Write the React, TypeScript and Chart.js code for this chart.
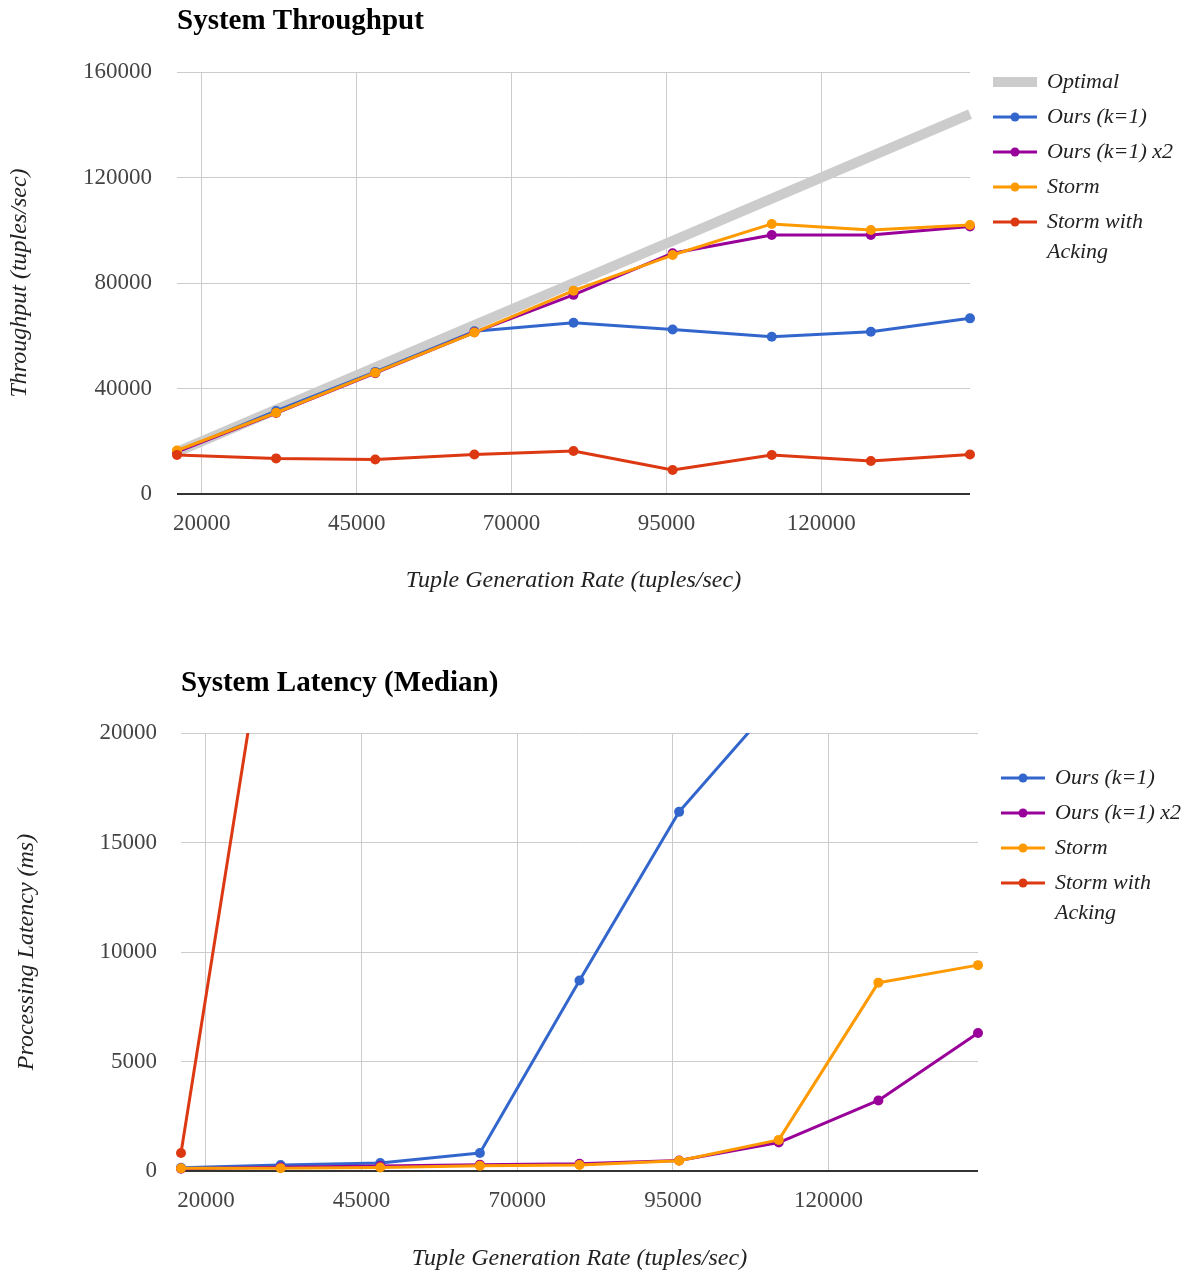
import React, { useEffect, useRef } from 'react';
import { Chart, registerables } from 'chart.js';

Chart.register(...registerables);

// ---------------- data ----------------
const RATES = [16000, 32000, 48000, 64000, 80000, 96000, 112000, 128000, 144000];
const X_TICKS = [20000, 45000, 70000, 95000, 120000];

const TP_Y_TICKS = [0, 40000, 80000, 120000, 160000];
const TP_OPTIMAL = [16000, 32000, 48000, 64000, 80000, 96000, 112000, 128000, 144000];
const TP_OURS = [16000, 31500, 46300, 61700, 64900, 62400, 59600, 61500, 66600];
const TP_OURS_X2 = [16000, 30700, 45800, 61300, 75500, 91300, 98200, 98200, 101400];
const TP_STORM = [16500, 30800, 46000, 61200, 77100, 90600, 102400, 100100, 102000];
const TP_STORM_ACK = [14800, 13500, 13100, 15000, 16300, 9100, 14800, 12500, 15000];

const LAT_Y_TICKS = [0, 5000, 10000, 15000, 20000];
const LAT_OURS: (number | null)[] = [150, 270, 360, 820, 8700, 16400, 21600, null, null];
const LAT_OURS_X2 = [100, 170, 230, 290, 330, 480, 1300, 3220, 6300];
const LAT_STORM = [120, 130, 160, 240, 270, 470, 1420, 8600, 9400];
const LAT_STORM_ACK: (number | null)[] = [820, 29400, null, null, null, null, null, null, null];

const LEGEND_WRAP: Record<string, string[]> = {
  'Storm with Acking': ['Storm with', 'Acking'],
};

// ---------------- style ----------------
const SERIF = '"Liberation Serif", "Times New Roman", serif';
const GRAY = '#cccccc';
const BLUE = '#3366cc';
const PURPLE = '#990099';
const ORANGE = '#ff9900';
const RED = '#dc3912';

type Series = {
  label: string;
  values: (number | null)[];
  color: string;
  width: number;
  points: boolean;
  order: number;
  marker: 'bar' | 'line';
};

type Geometry = {
  canvasH: number;
  plotLeft: number;
  legendW: number;
  titleTop: number;
  titleBottom: number;
  xScaleH: number;
  xTickPad: number;
  xTitlePadBottom: number;
  yTickPad: number;
  yTitlePadTop: number;
  legendTop: number;
};

type Spec = {
  title: string;
  xTitle: string;
  yTitle: string;
  yMax: number;
  yTicks: number[];
  series: Series[];
  geo: Geometry;
};

const TP_SPEC: Spec = {
  title: 'System Throughput',
  xTitle: 'Tuple Generation Rate (tuples/sec)',
  yTitle: 'Throughput (tuples/sec)',
  yMax: 160000,
  yTicks: TP_Y_TICKS,
  series: [
    { label: 'Optimal', values: TP_OPTIMAL, color: GRAY, width: 10, points: false, order: 5, marker: 'bar' },
    { label: 'Ours (k=1)', values: TP_OURS, color: BLUE, width: 3, points: true, order: 4, marker: 'line' },
    { label: 'Ours (k=1) x2', values: TP_OURS_X2, color: PURPLE, width: 3, points: true, order: 3, marker: 'line' },
    { label: 'Storm', values: TP_STORM, color: ORANGE, width: 3, points: true, order: 2, marker: 'line' },
    { label: 'Storm with Acking', values: TP_STORM_ACK, color: RED, width: 3, points: true, order: 1, marker: 'line' },
  ],
  geo: {
    canvasH: 637,
    plotLeft: 177,
    legendW: 218,
    titleTop: 4.6,
    titleBottom: 32.6,
    xScaleH: 143,
    xTickPad: 16,
    xTitlePadBottom: 41.6,
    yTickPad: 25,
    yTitlePadTop: 5,
    legendTop: 58,
  },
};

const LAT_SPEC: Spec = {
  title: 'System Latency (Median)',
  xTitle: 'Tuple Generation Rate (tuples/sec)',
  yTitle: 'Processing Latency (ms)',
  yMax: 20000,
  yTicks: LAT_Y_TICKS,
  series: [
    { label: 'Ours (k=1)', values: LAT_OURS, color: BLUE, width: 3, points: true, order: 4, marker: 'line' },
    { label: 'Ours (k=1) x2', values: LAT_OURS_X2, color: PURPLE, width: 3, points: true, order: 3, marker: 'line' },
    { label: 'Storm', values: LAT_STORM, color: ORANGE, width: 3, points: true, order: 2, marker: 'line' },
    { label: 'Storm with Acking', values: LAT_STORM_ACK, color: RED, width: 3, points: true, order: 1, marker: 'line' },
  ],
  geo: {
    canvasH: 638,
    plotLeft: 181,
    legendW: 210,
    titleTop: 29.6,
    titleBottom: 31.6,
    xScaleH: 104,
    xTickPad: 16,
    xTitlePadBottom: 1.6,
    yTickPad: 24,
    yTitlePadTop: 12.6,
    legendTop: 117,
  },
};

// ---------------- helpers ----------------
function makeMarker(color: string, kind: 'bar' | 'line'): HTMLCanvasElement {
  const c = document.createElement('canvas');
  c.width = 55;
  c.height = 12;
  const ctx = c.getContext('2d')!;
  if (kind === 'bar') {
    ctx.fillStyle = color;
    ctx.fillRect(11, 1, 44, 10);
  } else {
    ctx.strokeStyle = color;
    ctx.lineWidth = 3;
    ctx.beginPath();
    ctx.moveTo(11, 6);
    ctx.lineTo(55, 6);
    ctx.stroke();
    ctx.fillStyle = color;
    ctx.beginPath();
    ctx.arc(33, 6, 4.5, 0, Math.PI * 2);
    ctx.fill();
  }
  return c;
}

const fixLegendWidth = {
  id: 'fixLegendWidth',
  beforeLayout(chart: any, _args: any, opts: any) {
    const lg = chart.legend;
    if (lg && !lg.__fixedFit) {
      const orig = lg.fit.bind(lg);
      lg.fit = () => {
        orig();
        lg.width = opts.width;
      };
      lg.__fixedFit = true;
    }
  },
};

function buildChart(canvas: HTMLCanvasElement, spec: Spec): Chart {
  const g = spec.geo;
  const markers = spec.series.map((s) => makeMarker(s.color, s.marker));
  const config: any = {
    type: 'line',
    data: {
      datasets: spec.series.map((s) => ({
        label: s.label,
        data: RATES.map((x, i) => ({ x, y: s.values[i] })),
        borderColor: s.color,
        backgroundColor: s.color,
        borderWidth: s.width,
        pointRadius: s.points ? 5 : 0,
        pointHoverRadius: s.points ? 5 : 0,
        pointBorderWidth: 0,
        pointBackgroundColor: s.color,
        order: s.order,
        tension: 0,
        fill: false,
        borderCapStyle: 'butt',
        borderJoinStyle: 'round',
        clip: { left: 10, right: 10, top: 0, bottom: 10 },
      })),
    },
    options: {
      animation: false,
      responsive: true,
      maintainAspectRatio: false,
      events: [],
      layout: { padding: 0 },
      scales: {
        x: {
          type: 'linear',
          min: RATES[0],
          max: RATES[RATES.length - 1],
          afterBuildTicks: (s: any) => {
            s.ticks = X_TICKS.map((v) => ({ value: v }));
          },
          afterFit: (s: any) => {
            s.height = g.xScaleH;
          },
          grid: { color: GRAY, lineWidth: 1, drawTicks: false },
          border: { display: false },
          ticks: {
            padding: g.xTickPad,
            color: '#444',
            font: { family: SERIF, size: 23, lineHeight: 1.2 },
            callback: (v: any) => String(v),
            maxRotation: 0,
            autoSkip: false,
          },
          title: {
            display: true,
            text: spec.xTitle,
            color: '#222',
            font: { family: SERIF, size: 24, style: 'italic', lineHeight: 1.2 },
            padding: { top: 0, bottom: g.xTitlePadBottom },
          },
        },
        y: {
          type: 'linear',
          min: 0,
          max: spec.yMax,
          afterBuildTicks: (s: any) => {
            s.ticks = spec.yTicks.map((v) => ({ value: v }));
          },
          afterFit: (s: any) => {
            s.width = g.plotLeft;
          },
          grid: {
            color: (c: any) => (c.tick && c.tick.value === 0 ? '#333333' : GRAY),
            lineWidth: (c: any) => (c.tick && c.tick.value === 0 ? 2 : 1),
            drawTicks: false,
          },
          border: { display: false },
          ticks: {
            padding: g.yTickPad,
            color: '#444',
            font: { family: SERIF, size: 23, lineHeight: 1.2 },
            callback: (v: any) => String(v),
          },
          title: {
            display: true,
            text: spec.yTitle,
            color: '#222',
            font: { family: SERIF, size: 24, style: 'italic', lineHeight: 1.2 },
            padding: { top: g.yTitlePadTop, bottom: 0 },
          },
        },
      },
      plugins: {
        title: {
          display: true,
          text: spec.title,
          align: 'start',
          fullSize: false,
          color: '#000',
          font: { family: SERIF, size: 29, weight: 'bold', lineHeight: 1.2 },
          padding: { top: g.titleTop, bottom: g.titleBottom },
        },
        legend: {
          display: true,
          position: 'right',
          align: 'start',
          fullSize: true,
          title: {
            display: true,
            text: ' ',
            font: { size: 1, lineHeight: 1 },
            padding: { top: g.legendTop - 1, bottom: 0 },
          },
          labels: {
            usePointStyle: true,
            pointStyleWidth: 53,
            padding: 13,
            color: '#222',
            font: { family: SERIF, size: 22, style: 'italic', lineHeight: 1.36 },
            sort: (a: any, b: any) => a.datasetIndex - b.datasetIndex,
            generateLabels: (chart: any) => {
              const items = (Chart.defaults.plugins.legend.labels as any).generateLabels(chart);
              return items.map((it: any) => {
                const label = chart.data.datasets[it.datasetIndex].label as string;
                return {
                  ...it,
                  text: LEGEND_WRAP[label] ?? it.text,
                  pointStyle: markers[it.datasetIndex],
                  fontColor: '#222',
                };
              });
            },
          },
        },
        tooltip: { enabled: false },
        fixLegendWidth: { width: g.legendW },
      },
    },
    plugins: [fixLegendWidth],
  };
  return new Chart(canvas, config);
}

function ChartBox({ spec }: { spec: Spec }) {
  const ref = useRef<HTMLCanvasElement | null>(null);
  useEffect(() => {
    if (!ref.current) return;
    const chart = buildChart(ref.current, spec);
    return () => chart.destroy();
  }, [spec]);
  return (
    <div style={{ position: 'relative', width: 1188, height: spec.geo.canvasH }}>
      <canvas ref={ref} />
    </div>
  );
}

export default function App() {
  useEffect(() => {
    document.body.style.margin = '0';
  }, []);
  return (
    <div style={{ position: 'absolute', left: 0, top: 0, width: 1188, background: '#fff' }}>
      <ChartBox spec={TP_SPEC} />
      <ChartBox spec={LAT_SPEC} />
    </div>
  );
}
